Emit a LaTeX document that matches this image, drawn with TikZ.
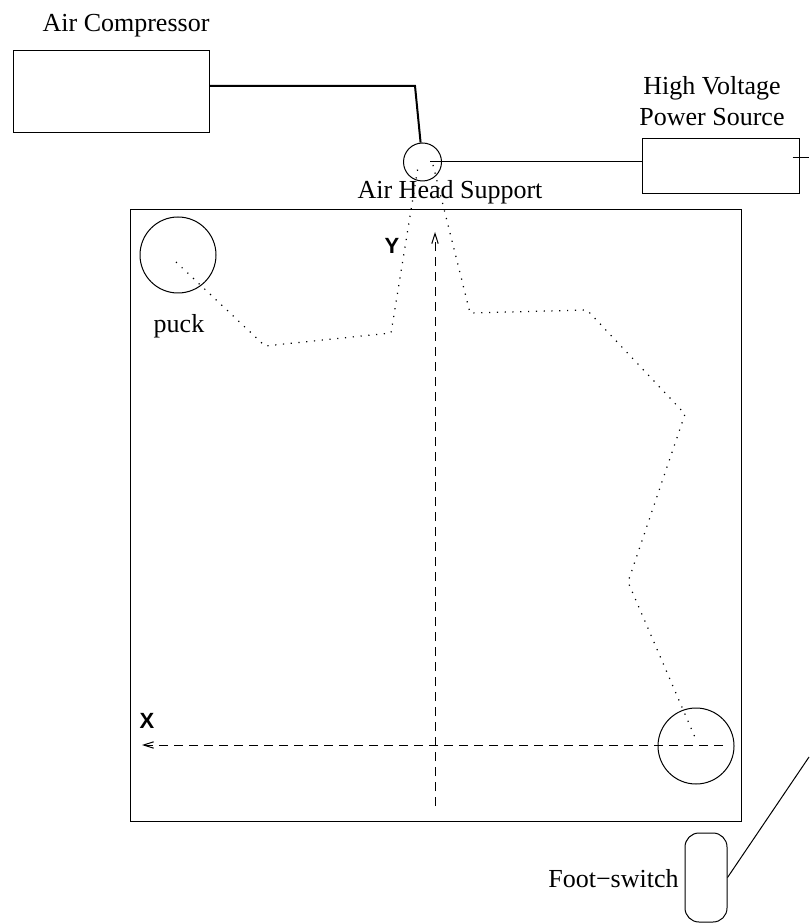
\documentclass[tikz,border=0pt]{standalone}
\usepackage{fontspec}
\setmainfont{Liberation Serif}
\newfontfamily\axisfont{Liberation Sans}
\usetikzlibrary{arrows.meta}

\begin{document}
\begin{tikzpicture}[x=0.5pt, y=-0.5pt,
  box/.style={draw, line width=0.5pt, inner sep=0pt},
  disc/.style={draw, circle, line width=0.5pt, inner sep=0pt},
  lbl/.style={font=\fontsize{13}{15.5}\selectfont, inner sep=0pt, anchor=base},
  axlbl/.style={font=\axisfont\bfseries\fontsize{11}{13}\selectfont, inner sep=0pt},
  wire/.style={line width=0.5pt},
  hose/.style={line width=1pt},
  axis/.style={line width=0.5pt, dash pattern=on 4.5pt off 3pt, -{Straight Barb[length=5pt, width=3.2pt]}},
  track/.style={line width=0.6pt, dash pattern=on 0.6pt off 3.3pt}
]
\useasboundingbox (0,0) rectangle (809,924);

% equipment
\node[box, minimum width=98pt, minimum height=41pt] (comp) at (111,92) {};
\node[lbl] (complbl) at (126,32) {Air Compressor};
\node[disc, minimum size=19pt] (head) at (422.5,162) {};
\node[lbl] (headlbl) at (450,199) {Air Head Support};
\node[box, minimum width=78.5pt, minimum height=27.5pt] (hv) at (720.5,166.5) {};
\node[lbl, align=center] (hvlbl) at (712,126) {High Voltage\\Power Source};

% table and pucks
\node[box, minimum size=305.5pt] (table) at (435.5,515.5) {};
\node[disc, minimum size=38pt] (puckA) at (178,255) {};
\node[disc, minimum size=38pt] (puckB) at (696,746) {};
\node[lbl] (pucklbl) at (179,333) {puck};
\node[axlbl] (ylbl) at (392,246) {Y};
\node[axlbl] (xlbl) at (147,721) {X};

\node[box, rounded corners=7pt, minimum width=21pt, minimum height=44.5pt] (foot) at (706,877.5) {};
\node[lbl, anchor=base east] (footlbl) at (679,887) {Foot−switch};

\coordinate (bend) at (415,86);
\coordinate (tap) at (430,162);
\coordinate (lead) at (809,158);
\coordinate (cable) at (809,757);
\coordinate (yhead) at (435,232);
\coordinate (ytail) at (435,806);
\coordinate (xhead) at (142,745);
\coordinate (xtail) at (723,745);

\draw[hose] (comp.east |- bend) -- (bend) -- (head);
\draw[wire] (tap) -- (tap -| hv.west);
\draw[wire] ([xshift=-3.5pt]lead -| hv.east) -- (lead);
\draw[wire] (foot.east) -- (cable);

\draw[axis] (ytail) -- (yhead);
\draw[axis] (xtail) -- (xhead);

% puck path
\draw[track] (176,262) -- (265,346) -- (391,333) -- (418,167);
\draw[track] (433,165) -- (470,313) -- (587,310) -- (685,414) -- (628,582) -- (697,742);
\end{tikzpicture}
\end{document}
